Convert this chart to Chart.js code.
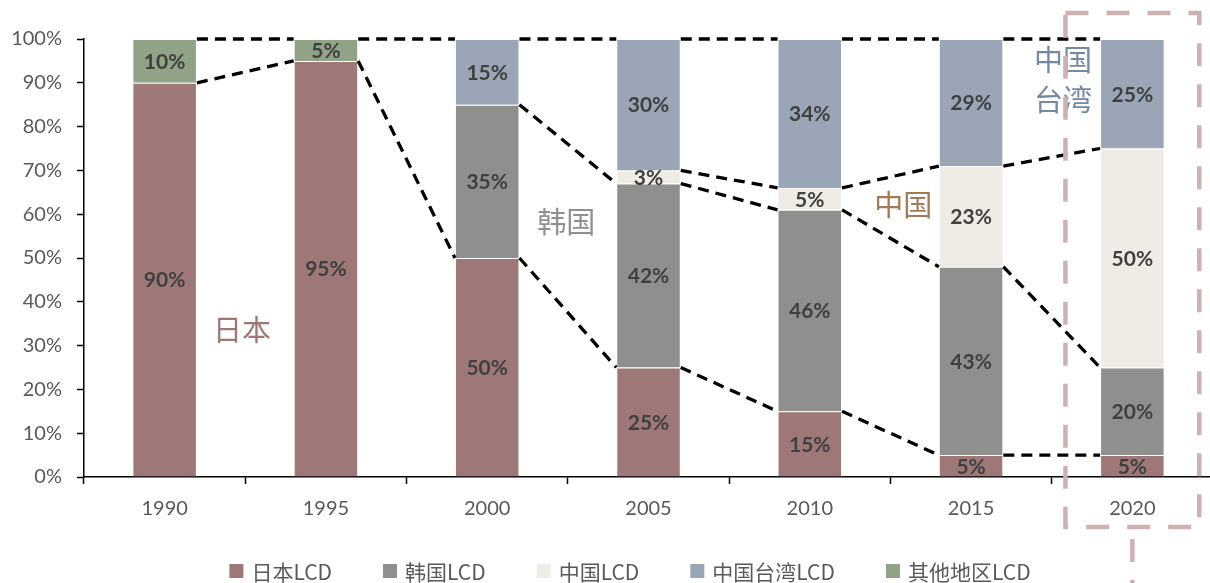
<!DOCTYPE html>
<html>
<head>
<meta charset="utf-8">
<script src="https://cdn.jsdelivr.net/npm/chart.js@4/dist/chart.umd.min.js"></script>
<style>
  html, body { margin: 0; padding: 0; background: #fff; overflow: hidden; }
  #wrap { position: relative; width: 1210px; height: 583px; overflow: hidden; }
  #c { position: absolute; left: 0; top: 0; }
</style>
</head>
<body>
<div id="wrap"><canvas id="c" width="1214" height="583"></canvas></div>
<script>
// Global LCD panel capacity share by region, 1990-2020 (%)
const categories = ['1990', '1995', '2000', '2005', '2010', '2015', '2020'];
const japanLCD  = [90, 95, 50, 25, 15, 5, 5];
const koreaLCD  = [null, null, 35, 42, 46, 43, 20];
const chinaLCD  = [null, null, null, 3, 5, 23, 50];
const taiwanLCD = [null, null, 15, 30, 34, 29, 25];
const otherLCD  = [10, 5, null, null, null, null, null];
const yTicks = [0, 10, 20, 30, 40, 50, 60, 70, 80, 90, 100];

const seriesNames  = ['日本LCD', '韩国LCD', '中国LCD', '中国台湾LCD', '其他地区LCD'];
const seriesColors = ['#9E7876', '#8F8F8D', '#EFEBE5', '#9AA6B6', '#91A386'];

// Region call-outs placed in data coordinates (category index, percent)
const callouts = [
  { lines: ['日本'], x: 0.48, y: 33.6, color: '#9E7876' },
  { lines: ['韩国'], x: 2.49, y: 58.2, color: '#8F8F8D' },
  { lines: ['中国'], x: 4.58, y: 62.1, color: '#9F7B56' },
  { lines: ['中国', '台湾'], x: 5.57, y: 90.6, color: '#7588A3' }
];

const LATIN = 'Lato, "Noto Sans CJK SC", sans-serif';
const CJK = '"Noto Sans CJK SC", Lato, sans-serif';

// Dashed connectors between the segment boundaries of neighbouring bars
const connectorPlugin = {
  id: 'connectors',
  afterDatasetsDraw(chart) {
    const ctx = chart.ctx;
    const y = chart.scales.y;
    ctx.save();
    ctx.strokeStyle = '#000';
    ctx.lineWidth = 3.3;
    ctx.setLineDash([11, 7]);
    const n = categories.length;
    // boundaries of the bottom three stacks
    for (let d = 0; d < 3; d++) {
      const meta = chart.getDatasetMeta(d);
      const vals = chart.data.datasets[d].data;
      for (let i = 0; i < n - 1; i++) {
        if (vals[i] == null || vals[i + 1] == null) continue;
        const a = meta.data[i], b = meta.data[i + 1];
        ctx.beginPath();
        ctx.moveTo(a.x + a.width / 2, a.y);
        ctx.lineTo(b.x - b.width / 2, b.y);
        ctx.stroke();
      }
    }
    // the 100% cap of each bar
    const meta0 = chart.getDatasetMeta(0);
    for (let i = 0; i < n - 1; i++) {
      const totA = chart.data.datasets.reduce((s, ds) => s + (ds.data[i] || 0), 0);
      const totB = chart.data.datasets.reduce((s, ds) => s + (ds.data[i + 1] || 0), 0);
      const a = meta0.data[i], b = meta0.data[i + 1];
      ctx.beginPath();
      ctx.moveTo(a.x + a.width / 2, y.getPixelForValue(totA));
      ctx.lineTo(b.x - b.width / 2, y.getPixelForValue(totB));
      ctx.stroke();
    }
    ctx.restore();
  }
};

// Value labels centred in each segment
const valueLabelPlugin = {
  id: 'valueLabels',
  afterDatasetsDraw(chart) {
    const ctx = chart.ctx;
    ctx.save();
    ctx.font = 'bold 21px ' + LATIN;
    ctx.fillStyle = '#404040';
    ctx.textAlign = 'center';
    ctx.textBaseline = 'middle';
    chart.data.datasets.forEach((ds, d) => {
      const meta = chart.getDatasetMeta(d);
      ds.data.forEach((v, i) => {
        if (v == null) return;
        const el = meta.data[i];
        ctx.fillText(v + '%', el.x, (el.y + el.base) / 2 + 1);
      });
    });
    ctx.restore();
  }
};

// Region names and the highlight frame around the latest year
const decorPlugin = {
  id: 'decor',
  afterDraw(chart) {
    const ctx = chart.ctx;
    const xs = chart.scales.x, ys = chart.scales.y;
    ctx.save();
    ctx.font = '29px ' + CJK;
    ctx.textAlign = 'center';
    ctx.textBaseline = 'middle';
    callouts.forEach(c => {
      const px = xs.getPixelForValue(c.x);
      const py = ys.getPixelForValue(c.y);
      ctx.fillStyle = c.color;
      const lh = 40;
      const start = py - (c.lines.length - 1) * lh / 2;
      c.lines.forEach((t, k) => ctx.fillText(t, px, start + k * lh));
    });

    // frame around the last category
    const last = categories.length - 1;
    const cx = xs.getPixelForValue(last);
    const catW = xs.getPixelForValue(1) - xs.getPixelForValue(0);
    const half = catW * 0.415;
    const top = chart.chartArea.top - 26;
    const bottom = chart.chartArea.bottom + 50;
    ctx.strokeStyle = '#CDB2B4';
    ctx.lineWidth = 4.5;
    ctx.setLineDash([23, 18]);
    ctx.strokeRect(cx - half, top, half * 2, bottom - top);
    ctx.beginPath();
    ctx.moveTo(cx, bottom + 12);
    ctx.lineTo(cx, chart.height);
    ctx.stroke();
    ctx.restore();
  }
};

// Legend row along the bottom edge
const legendPlugin = {
  id: 'bottomLegend',
  afterDraw(chart) {
    const ctx = chart.ctx;
    ctx.save();
    ctx.font = '21px ' + CJK;
    ctx.textBaseline = 'middle';
    const box = 14, gap = 8, spacing = 51;
    const items = chart.data.datasets.map(ds => ({ label: ds.label, color: ds.backgroundColor }));
    const widths = items.map(it => box + gap + ctx.measureText(it.label).width);
    const total = widths.reduce((a, b) => a + b, 0) + spacing * (items.length - 1);
    let x = 630 - total / 2;
    const yMid = 571;
    items.forEach((it, k) => {
      ctx.fillStyle = it.color;
      ctx.fillRect(x, yMid - box / 2, box, box);
      ctx.fillStyle = '#595959';
      ctx.textAlign = 'left';
      ctx.fillText(it.label, x + box + gap, yMid + 1);
      x += widths[k] + spacing;
    });
    ctx.restore();
  }
};

const seriesData = [japanLCD, koreaLCD, chinaLCD, taiwanLCD, otherLCD];

new Chart(document.getElementById('c'), {
  type: 'bar',
  data: {
    labels: categories,
    datasets: seriesData.map((d, k) => ({
      label: seriesNames[k],
      data: d,
      backgroundColor: seriesColors[k],
      borderColor: 'rgba(255,255,255,0.55)',
      borderWidth: 1,
      barPercentage: 0.8,
      categoryPercentage: 0.5
    }))
  },
  options: {
    responsive: false,
    devicePixelRatio: 1,
    animation: false,
    layout: { padding: { top: 39, right: 1, left: 0, bottom: 0 } },
    plugins: {
      legend: { display: false },
      tooltip: { enabled: false }
    },
    scales: {
      x: {
        stacked: true,
        grid: {
          offset: true,
          drawOnChartArea: false,
          tickLength: 7,
          tickColor: '#000',
          tickWidth: 1.5
        },
        border: { color: '#000', width: 1.5 },
        ticks: {
          color: '#595959',
          font: { family: LATIN, size: 20 },
          padding: 13,
          maxRotation: 0
        },
        afterFit(scale) { scale.height = 106; }
      },
      y: {
        stacked: true,
        min: 0,
        max: 100,
        afterBuildTicks(scale) { scale.ticks = yTicks.map(v => ({ value: v })); },
        grid: {
          drawOnChartArea: false,
          tickLength: 7,
          tickColor: '#000',
          tickWidth: 1.5
        },
        border: { color: '#000', width: 1.5 },
        ticks: {
          color: '#595959',
          font: { family: LATIN, size: 20 },
          padding: 15,
          callback: v => v + '%'
        },
        afterFit(scale) { scale.width = 84; }
      }
    }
  },
  plugins: [connectorPlugin, valueLabelPlugin, decorPlugin, legendPlugin]
});
</script>
</body>
</html>
